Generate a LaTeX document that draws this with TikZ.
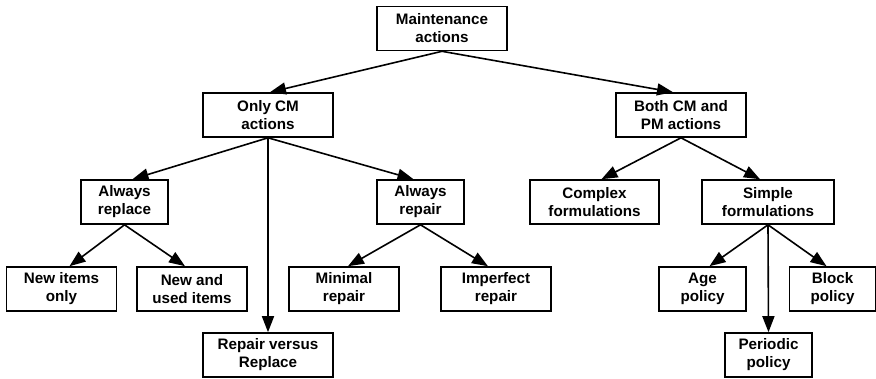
\documentclass[tikz,border=0pt]{standalone}
\usepackage{fontspec}
\setmainfont{Liberation Sans}
\usetikzlibrary{arrows.meta}
\begin{document}
\begin{tikzpicture}[x=1pt,y=-1pt,
  box/.style={draw, line width=1.6pt, minimum height=44pt, inner sep=0pt, align=center,
    font=\fontsize{15.2}{18}\selectfont\bfseries},
  wbox/.style={box, minimum width=130pt},
  mbox/.style={box, minimum width=110pt},
  sbox/.style={box, minimum width=87pt},
  arr/.style={line width=1.6pt, -{Triangle[length=16pt,width=12pt]}}]
\useasboundingbox (0,0) rectangle (876,378);
\node[wbox] (ma) at (442,28.5) {Maintenance\\actions};
\node[wbox] (cm) at (268,115) {Only CM\\actions};
\node[wbox] (pm) at (681,115) {Both CM and\\PM actions};
\node[sbox] (ar) at (124.5,202) {Always\\replace};
\node[sbox] (ap) at (420.5,202) {Always\\repair};
\node[wbox, minimum width=129pt] (cf) at (594.5,202) {Complex\\formulations};
\node[wbox, minimum width=132pt] (sf) at (768,202) {Simple\\formulations};
\node[mbox] (ni) at (61.5,289) {New items\\only};
\node[mbox] (nu) at (192,289) {New and\\used items};
\node[mbox] (mr) at (344,289) {Minimal\\repair};
\node[mbox] (ir) at (496,289) {Imperfect\\repair};
\node[sbox] (ag) at (702.5,289) {Age\\policy};
\node[sbox, minimum width=86pt] (bp) at (832.5,289) {Block\\policy};
\node[wbox] (rv) at (268,355) {Repair versus\\Replace};
\node[sbox] (pp) at (768.5,355) {Periodic\\policy};
\draw[arr] (ma.south) -- ([xshift=2pt]cm.north);
\draw[arr] (ma.south) -- ([xshift=-8pt]pm.north);
\draw[arr] (cm.south) -- ([xshift=8pt]ar.north);
\draw[arr] (cm.south) -- ([xshift=-7pt]ap.north);
\draw[arr] (cm.south) -- (rv.north);
\draw[arr] (pm.south) -- ([xshift=7pt]cf.north);
\draw[arr] (pm.south) -- ([xshift=-8pt]sf.north);
\draw[arr] (ar.south) -- ([xshift=8pt]ni.north);
\draw[arr] (ar.south) -- ([xshift=-7pt]nu.north);
\draw[arr] (ap.south) -- ([xshift=4pt]mr.north);
\draw[arr] (ap.south) -- ([xshift=-8pt]ir.north);
\draw[arr] (sf.south) -- ([xshift=7pt]ag.north);
\draw[arr] (sf.south) -- ([xshift=-6pt]bp.north);
\draw[arr] (sf.south) -- (pp.north);
\end{tikzpicture}
\end{document}
